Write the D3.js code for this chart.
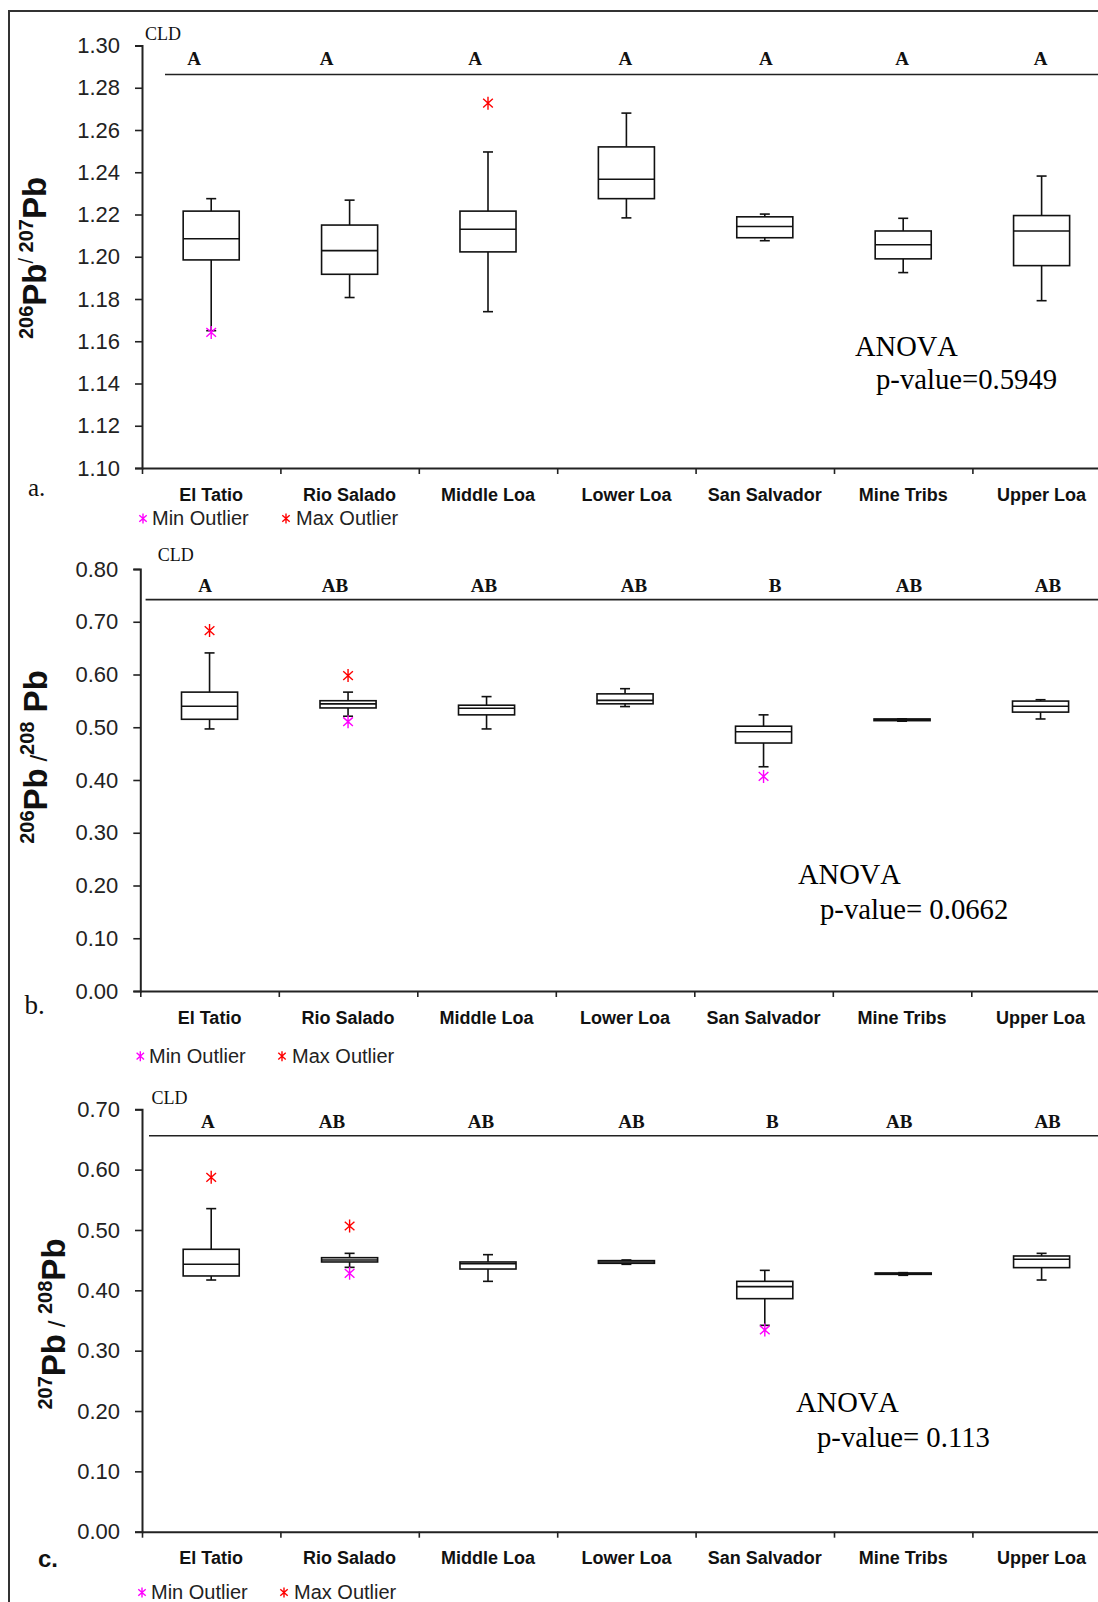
<!DOCTYPE html>
<html lang="en">
<meta charset="UTF-8">
<title>Pb isotope ratios by site</title>
<style>
  body { margin: 0; background: #fff; }
  svg { display: block; }
</style>
<body>
<script src="https://cdn.jsdelivr.net/npm/d3@7/dist/d3.min.js"></script>
<script>

var sites = ["El Tatio", "Rio Salado", "Middle Loa", "Lower Loa", "San Salvador", "Mine Tribs", "Upper Loa"];

// box stats per site: [low whisker, q1, median, q3, high whisker]
var boxA = [
  [1.1650, 1.1985, 1.2085, 1.2216, 1.2275],
  [1.1807, 1.1917, 1.2029, 1.2150, 1.2268],
  [1.1740, 1.2023, 1.2130, 1.2216, 1.2496],
  [1.2184, 1.2275, 1.2367, 1.2520, 1.2680],
  [1.2076, 1.2090, 1.2143, 1.2189, 1.2202],
  [1.1925, 1.1990, 1.2057, 1.2122, 1.2182],
  [1.1792, 1.1958, 1.2122, 1.2195, 1.2382]
];
var minOutA = [1.1642, null, null, null, null, null, null];
var maxOutA = [null, null, 1.2727, null, null, null, null];
var cldA = ["A", "A", "A", "A", "A", "A", "A"];
var ticksA = [1.10, 1.12, 1.14, 1.16, 1.18, 1.20, 1.22, 1.24, 1.26, 1.28, 1.30];
var pValA = "p-value=0.5949";

var boxB = [
  [0.4968, 0.5151, 0.5399, 0.5666, 0.6409],
  [0.5209, 0.5366, 0.5444, 0.5503, 0.5666],
  [0.4968, 0.5235, 0.5359, 0.5418, 0.5581],
  [0.5392, 0.5444, 0.5509, 0.5633, 0.5731],
  [0.4251, 0.4701, 0.4916, 0.5020, 0.5235],
  [0.5115, 0.5125, 0.5144, 0.5157, 0.5160],
  [0.5157, 0.5287, 0.5399, 0.5496, 0.5522]
];
var minOutB = [null, 0.5105, null, null, 0.4068, null, null];
var maxOutB = [0.6833, 0.5979, null, null, null, null, null];
var cldB = ["A", "AB", "AB", "AB", "B", "AB", "AB"];
var ticksB = [0.00, 0.10, 0.20, 0.30, 0.40, 0.50, 0.60, 0.70, 0.80];
var pValB = "p-value= 0.0662";

var boxC = [
  [0.4171, 0.4238, 0.4431, 0.4680, 0.5354],
  [0.4381, 0.4470, 0.4503, 0.4541, 0.4613],
  [0.4149, 0.4353, 0.4442, 0.4470, 0.4591],
  [0.4431, 0.4448, 0.4470, 0.4492, 0.4503],
  [0.3420, 0.3862, 0.4061, 0.4149, 0.4331],
  [0.4249, 0.4265, 0.4276, 0.4287, 0.4293],
  [0.4171, 0.4376, 0.4514, 0.4569, 0.4613]
];
var minOutC = [null, 0.4282, null, null, 0.3343, null, null];
var maxOutC = [0.5873, 0.5066, null, null, null, null, null];
var cldC = ["A", "AB", "AB", "AB", "B", "AB", "AB"];
var ticksC = [0.00, 0.10, 0.20, 0.30, 0.40, 0.50, 0.60, 0.70];
var pValC = "p-value= 0.113";

var width = 1098, height = 1602;
var sans = "'Liberation Sans', Arial, sans-serif";
var serif = "'Liberation Serif', 'Times New Roman', serif";

var svg = d3.select("body").append("svg")
  .attr("width", width)
  .attr("height", height);

// outer frame (right and bottom edges fall outside the picture)
svg.append("rect")
  .attr("x", 9).attr("y", 11)
  .attr("width", 1300).attr("height", 1800)
  .attr("fill", "none")
  .attr("stroke", "#333")
  .attr("stroke-width", 2);

var panels = [
  { box: boxA, minOut: minOutA, maxOut: maxOutA, cld: cldA, ticks: ticksA, pval: pValA,
    domain: [1.10, 1.30], top: 45.5, bottom: 468, left: 142, band: 138.4,
    cldX: 145, cldY: 39.5, lineX: 165, lineY: 74.5, letterY: 65.4,
    letterOff: [-17, -23, -13, -1, 1, -1, -1],
    anova: [855, 355.7], pv: [876, 389], labelY: 500.7, legendY: 525,
    legendX: [143, 152, 286, 296], tag: "a.", tagPos: [28, 496], tagFont: serif, tagWeight: "normal", tagSize: 25,
    title: [["206", "sup"], ["Pb", "big"], ["/", "slash"], [" 207", "sup"], ["Pb", "big"]], titlePos: [45.6, 258] },
  { box: boxB, minOut: minOutB, maxOut: maxOutB, cld: cldB, ticks: ticksB, pval: pValB,
    domain: [0, 0.80], top: 569, bottom: 991, left: 140.3, band: 138.5,
    cldX: 157.8, cldY: 561.3, lineX: 145.6, lineY: 599.6, letterY: 591.6,
    letterOff: [-4.5, -13, -2.5, 9, 11.5, 7, 7.5],
    anova: [798, 884], pv: [820, 918.8], labelY: 1023.8, legendY: 1062.7,
    legendX: [140.3, 149, 282, 292], tag: "b.", tagPos: [24.5, 1013.5], tagFont: serif, tagWeight: "normal", tagSize: 27,
    title: [["206", "sup"], ["Pb", "big"], [" /", "mid"], ["208", "sup"], [" Pb", "big"]], titlePos: [46.5, 757] },
  { box: boxC, minOut: minOutC, maxOut: maxOutC, cld: cldC, ticks: ticksC, pval: pValC,
    domain: [0, 0.70], top: 1109.3, bottom: 1531.7, left: 142, band: 138.4,
    cldX: 151.5, cldY: 1104, lineX: 149, lineY: 1135.7, letterY: 1127.7,
    letterOff: [-3.4, -17.6, -7, 5, 7.5, -4, 6],
    anova: [796, 1411.7], pv: [817, 1446.7], labelY: 1564, legendY: 1599,
    legendX: [142, 151, 284, 294], tag: "c.", tagPos: [38, 1566.7], tagFont: sans, tagWeight: "bold", tagSize: 24,
    title: [["207", "sup"], ["Pb", "big"], [" / ", "mid"], ["208", "sup"], ["Pb", "big"]], titlePos: [65, 1324] }
];

function star(g, cx, cy, r, color) {
  var a = 42 * Math.PI / 180;
  var dx = r * Math.cos(a), dy = r * Math.sin(a);
  g.append("path")
    .attr("d", "M" + cx + "," + (cy - r) + "V" + (cy + r) +
      "M" + (cx - dx) + "," + (cy - dy) + "L" + (cx + dx) + "," + (cy + dy) +
      "M" + (cx - dx) + "," + (cy + dy) + "L" + (cx + dx) + "," + (cy - dy))
    .attr("stroke", color)
    .attr("stroke-width", 1.4)
    .attr("fill", "none");
}

function drawPanel(p) {
  var g = svg.append("g");
  var y = d3.scaleLinear().domain(p.domain).range([p.bottom, p.top]);
  var x = d3.scaleBand().domain(sites).range([p.left, p.left + 7 * p.band]);
  var idx = d3.scaleLinear().domain([0, 7]).range([p.left, p.left + 7 * p.band]);
  var bw = x.bandwidth();
  var boxW = bw * 0.405;

  // y axis
  var ya = g.append("g")
    .attr("transform", "translate(" + p.left + ",0)")
    .call(d3.axisLeft(y).tickValues(p.ticks).tickFormat(d3.format(".2f")).tickSize(7).tickPadding(15));
  ya.select(".domain").attr("stroke", "#222").attr("stroke-width", 2);
  ya.selectAll(".tick line").attr("stroke", "#222").attr("stroke-width", 1.6);
  ya.selectAll(".tick text")
    .attr("font-family", sans).attr("font-size", 22).attr("fill", "#222");

  // x axis with ticks at band edges
  var xa = g.append("g")
    .attr("transform", "translate(0," + p.bottom + ")")
    .call(d3.axisBottom(idx).tickValues([0, 1, 2, 3, 4, 5, 6, 7]).tickFormat("").tickSize(6).tickSizeOuter(0));
  xa.select(".domain").attr("stroke", "#222").attr("stroke-width", 2);
  xa.selectAll(".tick line").attr("stroke", "#222").attr("stroke-width", 1.6);

  g.selectAll(".site")
    .data(sites)
    .enter().append("text")
    .attr("x", function(d) { return x(d) + bw / 2; })
    .attr("y", p.labelY)
    .attr("text-anchor", "middle")
    .attr("font-family", sans).attr("font-weight", "bold").attr("font-size", 18)
    .attr("fill", "#111")
    .text(function(d) { return d; });

  // boxes
  sites.forEach(function(s, i) {
    var d = p.box[i];
    var cx = x(s) + bw / 2;
    var bg = g.append("g").attr("stroke", "#111").attr("stroke-width", 1.6).attr("fill", "none");
    bg.append("line").attr("x1", cx).attr("x2", cx).attr("y1", y(d[0])).attr("y2", y(d[1]));
    bg.append("line").attr("x1", cx).attr("x2", cx).attr("y1", y(d[3])).attr("y2", y(d[4]));
    bg.append("line").attr("x1", cx - 5).attr("x2", cx + 5).attr("y1", y(d[0])).attr("y2", y(d[0]));
    bg.append("line").attr("x1", cx - 5).attr("x2", cx + 5).attr("y1", y(d[4])).attr("y2", y(d[4]));
    bg.append("rect")
      .attr("x", cx - boxW / 2).attr("width", boxW)
      .attr("y", y(d[3])).attr("height", y(d[1]) - y(d[3]))
      .attr("fill", "#fff");
    bg.append("line").attr("x1", cx - boxW / 2).attr("x2", cx + boxW / 2).attr("y1", y(d[2])).attr("y2", y(d[2]));
    if (p.minOut[i] != null) star(g, cx, y(p.minOut[i]), 6.5, "#ff00ff");
    if (p.maxOut[i] != null) star(g, cx, y(p.maxOut[i]), 6.5, "#ff0000");
  });

  // compact letter display
  g.append("text")
    .attr("x", p.cldX).attr("y", p.cldY)
    .attr("font-family", serif).attr("font-size", 18).attr("fill", "#111")
    .text("CLD");
  g.append("line")
    .attr("x1", p.lineX).attr("x2", 1110)
    .attr("y1", p.lineY).attr("y2", p.lineY)
    .attr("stroke", "#222").attr("stroke-width", 1.6);
  g.selectAll(".cld")
    .data(p.cld)
    .enter().append("text")
    .attr("x", function(d, i) { return x(sites[i]) + bw / 2 + p.letterOff[i]; })
    .attr("y", p.letterY)
    .attr("text-anchor", "middle")
    .attr("font-family", serif).attr("font-weight", "bold").attr("font-size", 19)
    .attr("fill", "#111")
    .text(function(d) { return d; });

  // ANOVA note
  g.append("text")
    .attr("x", p.anova[0]).attr("y", p.anova[1])
    .attr("font-family", serif).attr("font-size", 28.5).style("font-kerning", "none")
    .text("ANOVA");
  g.append("text")
    .attr("x", p.pv[0]).attr("y", p.pv[1])
    .attr("font-family", serif).attr("font-size", 28.7)
    .text(p.pval);

  // legend
  star(g, p.legendX[0], p.legendY - 6.5, 5, "#ff00ff");
  star(g, p.legendX[2], p.legendY - 6.5, 5, "#ff0000");
  g.append("text").attr("x", p.legendX[1]).attr("y", p.legendY)
    .attr("font-family", sans).attr("font-size", 20).attr("fill", "#222")
    .text("Min Outlier");
  g.append("text").attr("x", p.legendX[3]).attr("y", p.legendY)
    .attr("font-family", sans).attr("font-size", 20).attr("fill", "#222")
    .text("Max Outlier");

  // panel tag
  g.append("text")
    .attr("x", p.tagPos[0]).attr("y", p.tagPos[1])
    .attr("font-family", p.tagFont).attr("font-weight", p.tagWeight).attr("font-size", p.tagSize)
    .attr("fill", "#111")
    .text(p.tag);

  // y title
  var t = g.append("text")
    .attr("transform", "translate(" + p.titlePos[0] + "," + p.titlePos[1] + ") rotate(-90)")
    .attr("text-anchor", "middle")
    .attr("font-family", sans).attr("font-weight", "bold")
    .attr("fill", "#111")
    .attr("xml:space", "preserve");
  var shift = 0;
  p.title.forEach(function(part) {
    var kind = part[1];
    var target = kind === "sup" || kind === "slash" ? -13 : 0;
    t.append("tspan")
      .attr("dy", target - shift)
      .attr("font-size", kind === "big" ? 33 : kind === "mid" ? 24 : 20)
      .attr("font-weight", kind === "slash" || kind === "mid" ? "normal" : "bold")
      .text(part[0]);
    shift = target;
  });
}

panels.forEach(drawPanel);

</script>
</body>
</html>
